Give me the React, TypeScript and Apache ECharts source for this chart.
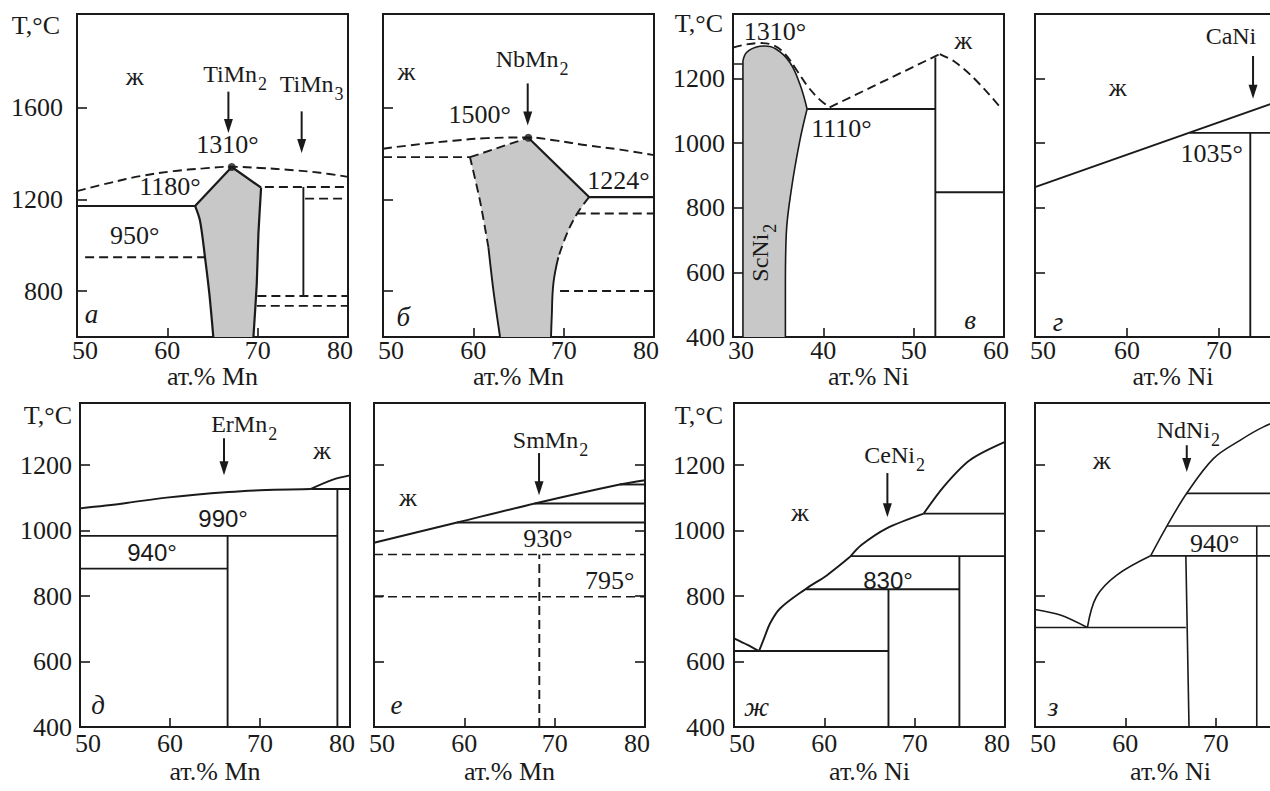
import React, { useEffect, useRef } from "react";
import * as echarts from "echarts";

type Pt = [number, number];

// ---------------- data (x = at.%, y = T, °C) ----------------
// а  Ti–Mn
const A_LIQUIDUS: Pt[] = [[50, 1237], [53.65, 1273], [56.98, 1302], [60.67, 1324], [63.99, 1336], [66.94, 1343], [70.27, 1338], [73.96, 1328], [76.91, 1317], [80, 1299]];
const A_DOT: Pt[] = [[67.13, 1342]];
const A_PHASE_LEFT: Pt[] = [[65.09, 600], [64.65, 789], [64.17, 948], [63.62, 1107], [63.07, 1172]];
const A_PHASE_TOP: Pt[] = [[63.07, 1172], [67.13, 1342], [70.38, 1252]];
const A_PHASE_RIGHT: Pt[] = [[70.38, 1252], [70.08, 1049], [69.9, 833], [69.53, 600]];
const A_EUTECTIC: Pt[] = [[50, 1172], [63.07, 1172]];
const A_950: Pt[] = [[50.9, 948], [64.17, 948]];
const A_DASH_1255: Pt[] = [[70.8, 1255], [80, 1255]];
const A_DASH_1204: Pt[] = [[75.25, 1204], [80, 1204]];
const A_TIMN3: Pt[] = [[75.06, 1255], [75.06, 779]];
const A_DASH_779: Pt[] = [[69.97, 779], [80, 779]];
const A_DASH_736: Pt[] = [[69.9, 736], [80, 736]];

// б  Nb–Mn
const B_LIQUIDUS: Pt[] = [[50, 1422], [54.1, 1442], [57.79, 1457], [61.48, 1468], [66.09, 1471], [69.23, 1457], [72.55, 1437], [76.25, 1418], [80, 1394]];
const B_DOT: Pt[] = [[66.09, 1470]];
const B_LEFT_SOLID: Pt[] = [[62.96, 600], [62.22, 804], [61.67, 991]];
const B_LEFT_DASH: Pt[] = [[61.67, 991], [60.74, 1194], [59.63, 1385]];
const B_TOP_DASH: Pt[] = [[59.63, 1385], [66.09, 1470]];
const B_TOP_SOLID: Pt[] = [[66.09, 1470], [72.81, 1211]];
const B_RIGHT_DASH: Pt[] = [[72.81, 1211], [71.45, 1136], [70.34, 1049], [69.41, 948]];
const B_RIGHT_SOLID: Pt[] = [[69.41, 948], [68.86, 833], [68.68, 688], [68.6, 600]];
const B_DASH_1385: Pt[] = [[50, 1385], [59.63, 1385]];
const B_SOLID_1211: Pt[] = [[72.81, 1211], [80, 1211]];
const B_DASH_1139: Pt[] = [[71.45, 1139], [80, 1139]];
const B_DASH_801: Pt[] = [[69.6, 801], [80, 801]];

// в  Sc–Ni
const C_PHASE_LEFT: Pt[] = [[31.1, 400], [31.1, 1255]];
const C_PHASE_TOP: Pt[] = [[31.1, 1255], [31.5, 1281], [32.6, 1298], [33.5, 1301], [34.8, 1291], [36.3, 1250], [37.4, 1183], [38.2, 1106]];
const C_PHASE_RIGHT: Pt[] = [[38.2, 1106], [37.4, 1008], [36.5, 864], [35.9, 720], [35.8, 566], [35.8, 400]];
const C_STUB: Pt[] = [[30, 1245], [31.1, 1245]];
const C_LIQ_1: Pt[] = [[30, 1296], [31.5, 1306], [33, 1310], [34.5, 1303], [35.8, 1275], [37, 1228], [38.3, 1175], [39.6, 1135], [40.7, 1111]];
const C_LIQ_2: Pt[] = [[40.7, 1111], [52.9, 1276]];
const C_LIQ_3: Pt[] = [[52.9, 1276], [54.5, 1253], [56.2, 1214], [58, 1162], [59.6, 1111]];
const C_EUTECTIC: Pt[] = [[38.2, 1106], [52.4, 1106]];
const C_VERT: Pt[] = [[52.4, 400], [52.4, 1265]];
const C_848: Pt[] = [[52.4, 848], [60, 848]];

// г  Ca–Ni
const D_LIQ: Pt[] = [[50, 864], [80, 1165]];
const D_1032: Pt[] = [[66.8, 1032], [80, 1032]];
const D_VERT: Pt[] = [[73.4, 400], [73.4, 1032]];

// д  Er–Mn
const E_LIQ: Pt[] = [[50, 1068], [54.8, 1083], [59.6, 1101], [66.5, 1118], [70.7, 1124], [75.6, 1127]];
const E_BRANCH: Pt[] = [[75.6, 1127], [78.1, 1156], [80, 1169]];
const E_1127: Pt[] = [[75.6, 1127], [80, 1127]];
const E_V1: Pt[] = [[78.6, 400], [78.6, 1127]];
const E_990: Pt[] = [[50, 984], [78.6, 984]];
const E_V2: Pt[] = [[66.4, 400], [66.4, 984]];
const E_940: Pt[] = [[50, 884], [66.4, 884]];

// е  Sm–Mn
const F_LIQ: Pt[] = [[50, 963], [59.2, 1025], [67.8, 1083], [77.2, 1141], [80, 1154]];
const F_1025: Pt[] = [[59.2, 1025], [80, 1025]];
const F_1083: Pt[] = [[67.8, 1083], [80, 1083]];
const F_1141: Pt[] = [[77.2, 1141], [80, 1141]];
const F_930: Pt[] = [[50, 927], [80, 927]];
const F_795: Pt[] = [[50, 798], [80, 798]];
const F_VERT: Pt[] = [[68.3, 400], [68.3, 927]];

// ж  Ce–Ni
const G_LIQ_LEFT: Pt[] = [[50, 671], [51.5, 651], [52.77, 632]];
const G_LIQ_1: Pt[] = [[52.77, 632], [53.4, 676], [54.0, 717], [55.1, 762], [57.9, 821], [60.3, 864], [62.85, 920]];
const G_LIQ_2: Pt[] = [[62.85, 920], [64.1, 956], [66.9, 1007], [71.0, 1052]];
const G_LIQ_3: Pt[] = [[71.0, 1052], [73.2, 1134], [76.1, 1215], [80, 1271]];
const G_632: Pt[] = [[50, 632], [67.1, 632]];
const G_V1: Pt[] = [[67.1, 400], [67.1, 821]];
const G_821: Pt[] = [[57.9, 821], [74.95, 821]];
const G_922: Pt[] = [[62.85, 922], [80, 922]];
const G_V2: Pt[] = [[74.95, 400], [74.95, 922]];
const G_1052: Pt[] = [[71.0, 1052], [80, 1052]];

// з  Nd–Ni
const H_LIQ_LEFT: Pt[] = [[50, 759], [52.8, 742], [55.8, 704]];
const H_LIQ_1: Pt[] = [[55.8, 704], [56.8, 798], [59.05, 864], [62.8, 923]];
const H_LIQ_2: Pt[] = [[62.8, 923], [64.6, 1014], [66.8, 1114], [69.75, 1220], [72.7, 1276], [75.3, 1317], [80, 1370]];
const H_704: Pt[] = [[50, 704], [66.7, 704]];
const H_V1: Pt[] = [[66.7, 923], [67.05, 400]];
const H_923: Pt[] = [[62.8, 923], [80, 923]];
const H_1014: Pt[] = [[64.6, 1014], [80, 1014]];
const H_1114: Pt[] = [[66.8, 1114], [80, 1114]];
const H_V2: Pt[] = [[74.55, 400], [74.55, 1014]];

// axis ticks / labels
const MN_LABELS = [50, 60, 70, 80];
const CUT_LABELS = [50, 60, 70];
const MN_TICKS = [60, 70];
const SC_LABELS = [30, 40, 50, 60];
const SC_TICKS = [40, 50];
const T_HI_LABELS = [800, 1200, 1600];
const T_HI_TICKS = [800, 1200, 1600];
const T_LO_LABELS = [400, 600, 800, 1000, 1200];
const T_LO_TICKS = [600, 800, 1000, 1200];
const E_RIGHT_TICKS = [600, 800, 1000, 1200];

// ---------------- styling ----------------
const SERIF = "'Liberation Serif', 'Times New Roman', serif";
const SANS = "'Liberation Sans', Arial, sans-serif";
const INK = "#1a1a1a";
const FILL = "#c8c8c8";

interface Panel {
  grid: { left: number; top: number; width: number; height: number };
  x: [number, number];
  y: [number, number];
  xLabels: number[];
  xTicks: number[];
  yLabels: number[] | null;
  yTicks: number[];
  xName: string;
  row: number;
  yMargin: number;
}

const PANELS: Panel[] = [
  { grid: { left: 77, top: 14, width: 271, height: 323 }, x: [50, 80], y: [600, 2010], xLabels: MN_LABELS, xTicks: MN_TICKS, yLabels: T_HI_LABELS, yTicks: T_HI_TICKS, xName: "ат.% Mn", row: 0, yMargin: 14 },
  { grid: { left: 383, top: 14, width: 271, height: 323 }, x: [50, 80], y: [600, 2010], xLabels: MN_LABELS, xTicks: MN_TICKS, yLabels: null, yTicks: T_HI_TICKS, xName: "ат.% Mn", row: 0, yMargin: 10 },
  { grid: { left: 733, top: 14, width: 271, height: 323 }, x: [30, 60], y: [400, 1400], xLabels: SC_LABELS, xTicks: SC_TICKS, yLabels: T_LO_LABELS, yTicks: T_LO_TICKS, xName: "ат.% Ni", row: 0, yMargin: 8 },
  { grid: { left: 1035, top: 14, width: 276, height: 323 }, x: [50, 80], y: [400, 1400], xLabels: CUT_LABELS, xTicks: MN_TICKS, yLabels: null, yTicks: T_LO_TICKS, xName: "ат.% Ni", row: 0, yMargin: 10 },
  { grid: { left: 80, top: 403, width: 270, height: 324 }, x: [50, 80], y: [400, 1390], xLabels: MN_LABELS, xTicks: MN_TICKS, yLabels: T_LO_LABELS, yTicks: T_LO_TICKS, xName: "ат.% Mn", row: 1, yMargin: 8 },
  { grid: { left: 374, top: 403, width: 271, height: 324 }, x: [50, 80], y: [400, 1390], xLabels: MN_LABELS, xTicks: MN_TICKS, yLabels: null, yTicks: T_LO_TICKS, xName: "ат.% Mn", row: 1, yMargin: 10 },
  { grid: { left: 734, top: 403, width: 271, height: 324 }, x: [50, 80], y: [400, 1390], xLabels: MN_LABELS, xTicks: MN_TICKS, yLabels: T_LO_LABELS, yTicks: T_LO_TICKS, xName: "ат.% Ni", row: 1, yMargin: 9 },
  { grid: { left: 1035, top: 403, width: 271, height: 324 }, x: [50, 80], y: [400, 1390], xLabels: CUT_LABELS, xTicks: MN_TICKS, yLabels: null, yTicks: T_LO_TICKS, xName: "ат.% Ni", row: 1, yMargin: 10 },
];

type Ann =
  | { k: "t"; x: number; y: number; text: string; f: "num" | "sans" | "liq" | "ital" | "form" }
  | { k: "f"; x: number; y: number; main: string; sub: string }
  | { k: "v"; x: number; y: number; main: string; sub: string }
  | { k: "a"; x: number; y1: number; y2: number };

const ANNOTATIONS: Ann[][] = [
  [
    { k: "t", f: "liq", x: 56.4, y: 1735, text: "ж" },
    { k: "f", x: 69.93, y: 1748, main: "TiMn", sub: "2" },
    { k: "a", x: 66.76, y1: 1671, y2: 1490 },
    { k: "f", x: 78.4, y: 1703, main: "TiMn", sub: "3" },
    { k: "a", x: 74.87, y1: 1585, y2: 1403 },
    { k: "t", f: "num", x: 66.65, y: 1440, text: "1310°" },
    { k: "t", f: "num", x: 60.3, y: 1255, text: "1180°" },
    { k: "t", f: "num", x: 56.4, y: 1045, text: "950°" },
    { k: "t", f: "ital", x: 51.6, y: 700, text: "а" },
  ],
  [
    { k: "t", f: "liq", x: 52.6, y: 1757, text: "ж" },
    { k: "f", x: 69.42, y: 1815, main: "NbMn", sub: "2" },
    { k: "a", x: 66.02, y1: 1707, y2: 1523 },
    { k: "t", f: "num", x: 60.7, y: 1570, text: "1500°" },
    { k: "t", f: "num", x: 76.06, y: 1281, text: "1224°" },
    { k: "t", f: "ital", x: 52.25, y: 688, text: "б" },
  ],
  [
    { k: "t", f: "num", x: 34.65, y: 1347, text: "1310°" },
    { k: "t", f: "liq", x: 55.5, y: 1317, text: "ж" },
    { k: "t", f: "num", x: 42.0, y: 1044, text: "1110°" },
    { k: "v", x: 33.0, y: 720, main: "ScNi", sub: "2" },
    { k: "t", f: "ital", x: 56.25, y: 452, text: "в" },
  ],
  [
    { k: "t", f: "form", x: 71.3, y: 1332, text: "CaNi" },
    { k: "a", x: 73.7, y1: 1270, y2: 1138 },
    { k: "t", f: "liq", x: 59.0, y: 1172, text: "ж" },
    { k: "t", f: "num", x: 69.2, y: 968, text: "1035°" },
    { k: "t", f: "ital", x: 52.5, y: 446, text: "г" },
  ],
  [
    { k: "f", x: 70.8, y: 1327, main: "ErMn", sub: "2" },
    { k: "a", x: 66.0, y1: 1282, y2: 1169 },
    { k: "t", f: "liq", x: 76.9, y: 1246, text: "ж" },
    { k: "t", f: "sans", x: 65.9, y: 1038, text: "990°" },
    { k: "t", f: "sans", x: 58.0, y: 934, text: "940°" },
    { k: "t", f: "ital", x: 52.0, y: 467, text: "д" },
  ],
  [
    { k: "f", x: 72.6, y: 1276, main: "SmMn", sub: "2" },
    { k: "a", x: 68.27, y1: 1237, y2: 1108 },
    { k: "t", f: "liq", x: 53.77, y: 1102, text: "ж" },
    { k: "t", f: "num", x: 69.27, y: 977, text: "930°" },
    { k: "t", f: "num", x: 76.1, y: 849, text: "795°" },
    { k: "t", f: "ital", x: 52.5, y: 467, text: "е" },
  ],
  [
    { k: "f", x: 70.04, y: 1230, main: "CeNi", sub: "2" },
    { k: "a", x: 66.98, y1: 1176, y2: 1041 },
    { k: "t", f: "liq", x: 57.3, y: 1056, text: "ж" },
    { k: "t", f: "sans", x: 67.05, y: 849, text: "830°" },
    { k: "t", f: "ital", x: 52.5, y: 461, text: "ж" },
  ],
  [
    { k: "f", x: 69.38, y: 1307, main: "NdNi", sub: "2" },
    { k: "a", x: 66.8, y1: 1261, y2: 1179 },
    { k: "t", f: "liq", x: 57.4, y: 1215, text: "ж" },
    { k: "t", f: "num", x: 69.9, y: 962, text: "940°" },
    { k: "t", f: "ital", x: 52.0, y: 461, text: "з" },
  ],
];

const FONTS: Record<string, { size: number; family: string; style: string }> = {
  num: { size: 26, family: SERIF, style: "normal" },
  sans: { size: 24, family: SANS, style: "normal" },
  liq: { size: 26, family: SERIF, style: "normal" },
  ital: { size: 27, family: SERIF, style: "italic" },
  form: { size: 24, family: SERIF, style: "normal" },
};

function txt(text: string, x: number, y: number, f: { size: number; family: string; style: string }, align = "center") {
  return {
    type: "text",
    x,
    y,
    style: { text, fill: INK, fontSize: f.size, fontFamily: f.family, fontStyle: f.style, align, verticalAlign: "middle" },
  };
}

function buildOption() {
  const grid: any[] = [];
  const xAxis: any[] = [];
  const yAxis: any[] = [];
  const series: any[] = [];
  const lab = { fontFamily: SERIF, fontSize: 26, color: INK, fontStyle: "normal" };

  PANELS.forEach((p, i) => {
    grid.push({
      ...p.grid,
      show: true,
      borderColor: INK,
      borderWidth: 2,
      backgroundColor: "rgba(0,0,0,0)",
      containLabel: false,
      outerBoundsMode: "none",
    });
    const xmin = p.x[0];
    const xmax = p.x[1];
    xAxis.push({
      type: "value",
      gridIndex: i,
      min: xmin,
      max: xmax,
      axisLine: { show: false },
      splitLine: { show: false },
      axisTick: { show: true, inside: true, length: 9, customValues: p.xTicks, lineStyle: { color: INK, width: 1.6 } },
      axisLabel: {
        show: true,
        customValues: p.xLabels,
        margin: p.row === 0 ? 0 : 3,
        ...lab,
        formatter: (v: number) => (v === xmin ? `{l|${v}}` : v === xmax ? `{r|${v}}` : `{c|${v}}`),
        rich: {
          l: { ...lab, padding: [0, 0, 0, 16] },
          r: { ...lab, padding: [0, 16, 0, 0] },
          c: { ...lab },
        },
      },
      name: p.xName,
      nameLocation: "middle",
      nameGap: p.row === 0 ? 24 : 31,
      nameTextStyle: { ...lab },
    });
    yAxis.push({
      type: "value",
      gridIndex: i,
      min: p.y[0],
      max: p.y[1],
      axisLine: { show: false },
      splitLine: { show: false },
      axisTick: { show: true, inside: true, length: 10, customValues: p.yTicks, lineStyle: { color: INK, width: 1.6 } },
      axisLabel: {
        show: !!p.yLabels,
        customValues: p.yLabels || [],
        margin: p.yMargin,
        ...lab,
        formatter: (v: number) => `{c|${v}}`,
        rich: { c: { ...lab } },
      },
    });
  });
  yAxis.push({
    type: "value",
    gridIndex: 5,
    position: "right",
    min: 400,
    max: 1390,
    axisLine: { show: false },
    splitLine: { show: false },
    axisLabel: { show: false },
    axisTick: { show: true, inside: true, length: 10, customValues: E_RIGHT_TICKS, lineStyle: { color: INK, width: 1.6 } },
  });

  const ln = (gi: number, data: Pt[], o: { dash?: boolean; smooth?: number; w?: number } = {}) =>
    series.push({
      type: "line",
      xAxisIndex: gi,
      yAxisIndex: gi,
      data,
      symbol: "none",
      showSymbol: false,
      silent: true,
      smooth: o.smooth || false,
      z: 3,
      lineStyle: { color: INK, width: o.w || 1.9, type: o.dash ? [9, 5] : "solid", cap: "butt" },
    });
  const poly = (gi: number, pts: Pt[]) =>
    series.push({
      type: "custom",
      xAxisIndex: gi,
      yAxisIndex: gi,
      silent: true,
      z: 1,
      data: [pts[0]],
      renderItem: (_params: any, api: any) => ({
        type: "polygon",
        shape: { points: pts.map((q) => api.coord(q)) },
        style: { fill: FILL, stroke: "none" },
      }),
    });
  const dot = (gi: number, data: Pt[]) =>
    series.push({ type: "scatter", xAxisIndex: gi, yAxisIndex: gi, data, symbolSize: 8, itemStyle: { color: INK }, silent: true, z: 6 });

  // а
  poly(0, [...A_PHASE_LEFT, ...A_PHASE_TOP.slice(1), ...A_PHASE_RIGHT.slice(1)]);
  ln(0, A_LIQUIDUS, { dash: true, smooth: 0.4 });
  ln(0, A_PHASE_LEFT, { smooth: 0.3, w: 2.2 });
  ln(0, A_PHASE_TOP, { w: 2.2 });
  ln(0, A_PHASE_RIGHT, { smooth: 0.2, w: 2.2 });
  ln(0, A_EUTECTIC);
  ln(0, A_950, { dash: true });
  ln(0, A_DASH_1255, { dash: true });
  ln(0, A_DASH_1204, { dash: true });
  ln(0, A_TIMN3);
  ln(0, A_DASH_779, { dash: true });
  ln(0, A_DASH_736, { dash: true });
  dot(0, A_DOT);

  // б
  poly(1, [...B_LEFT_SOLID, ...B_LEFT_DASH.slice(1), ...B_TOP_DASH.slice(1), ...B_TOP_SOLID.slice(1), ...B_RIGHT_DASH.slice(1), ...B_RIGHT_SOLID.slice(1)]);
  ln(1, B_LIQUIDUS, { dash: true, smooth: 0.4 });
  ln(1, B_LEFT_SOLID, { smooth: 0.3 });
  ln(1, B_LEFT_DASH, { dash: true, smooth: 0.3 });
  ln(1, B_TOP_DASH, { dash: true });
  ln(1, B_TOP_SOLID, { w: 2.2 });
  ln(1, B_RIGHT_DASH, { dash: true, smooth: 0.4 });
  ln(1, B_RIGHT_SOLID, { smooth: 0.4 });
  ln(1, B_DASH_1385, { dash: true });
  ln(1, B_SOLID_1211, { w: 2.2 });
  ln(1, B_DASH_1139, { dash: true });
  ln(1, B_DASH_801, { dash: true });
  dot(1, B_DOT);

  // в
  poly(2, [...C_PHASE_LEFT, ...C_PHASE_TOP.slice(1), ...C_PHASE_RIGHT.slice(1)]);
  ln(2, C_PHASE_LEFT, { w: 1.6 });
  ln(2, C_PHASE_TOP, { smooth: 0.4, w: 1.6 });
  ln(2, C_PHASE_RIGHT, { smooth: 0.4, w: 1.6 });
  ln(2, C_STUB, { w: 1.6 });
  ln(2, C_LIQ_1, { dash: true, smooth: 0.4 });
  ln(2, C_LIQ_2, { dash: true });
  ln(2, C_LIQ_3, { dash: true, smooth: 0.3 });
  ln(2, C_EUTECTIC);
  ln(2, C_VERT);
  ln(2, C_848);

  // г
  ln(3, D_LIQ);
  ln(3, D_1032);
  ln(3, D_VERT);

  // д
  ln(4, E_LIQ, { smooth: 0.3 });
  ln(4, E_BRANCH, { smooth: 0.3 });
  ln(4, E_1127);
  ln(4, E_V1);
  ln(4, E_990);
  ln(4, E_V2);
  ln(4, E_940);

  // е
  ln(5, F_LIQ, { smooth: 0.3 });
  ln(5, F_1025);
  ln(5, F_1083);
  ln(5, F_1141);
  ln(5, F_930, { dash: true, w: 1.6 });
  ln(5, F_795, { dash: true, w: 1.6 });
  ln(5, F_VERT, { dash: true });

  // ж
  ln(6, G_LIQ_LEFT, { smooth: 0.3 });
  ln(6, G_LIQ_1, { smooth: 0.35 });
  ln(6, G_LIQ_2, { smooth: 0.3 });
  ln(6, G_LIQ_3, { smooth: 0.3 });
  ln(6, G_632);
  ln(6, G_V1);
  ln(6, G_821);
  ln(6, G_922);
  ln(6, G_V2);
  ln(6, G_1052);

  // з
  ln(7, H_LIQ_LEFT, { smooth: 0.3, w: 1.6 });
  ln(7, H_LIQ_1, { smooth: 0.35, w: 1.6 });
  ln(7, H_LIQ_2, { smooth: 0.35, w: 1.6 });
  ln(7, H_704, { w: 1.6 });
  ln(7, H_V1, { w: 1.6 });
  ln(7, H_923, { w: 1.6 });
  ln(7, H_1014, { w: 1.6 });
  ln(7, H_1114, { w: 1.6 });
  ln(7, H_V2, { w: 1.6 });

  ANNOTATIONS.forEach((list, gi) => {
    series.push({
      type: "custom",
      xAxisIndex: gi,
      yAxisIndex: gi,
      silent: true,
      clip: false,
      z: 8,
      data: list.map((a) => (a.k === "a" ? [a.x, a.y1] : [a.x, a.y])),
      renderItem: (params: any, api: any) => {
        const a = list[params.dataIndex];
        if (a.k === "t") {
          const p = api.coord([a.x, a.y]);
          return txt(a.text, p[0], p[1], FONTS[a.f]);
        }
        if (a.k === "f") {
          const p = api.coord([a.x, a.y]);
          return {
            type: "group",
            children: [
              txt(a.main, p[0], p[1], FONTS.form, "right"),
              txt(a.sub, p[0] + 1, p[1] + 10, { size: 18, family: SERIF, style: "normal" }, "left"),
            ],
          };
        }
        if (a.k === "v") {
          const p = api.coord([a.x, a.y]);
          return {
            type: "group",
            x: p[0],
            y: p[1],
            rotation: Math.PI / 2,
            children: [
              txt(a.main, 0, 0, FONTS.form, "right"),
              txt(a.sub, 1, 10, { size: 18, family: SERIF, style: "normal" }, "left"),
            ],
          };
        }
        const p1 = api.coord([a.x, a.y1]);
        const p2 = api.coord([a.x, a.y2]);
        return {
          type: "group",
          children: [
            { type: "line", shape: { x1: p1[0], y1: p1[1], x2: p2[0], y2: p2[1] - 8 }, style: { stroke: INK, lineWidth: 2 } },
            {
              type: "polygon",
              shape: { points: [[p2[0] - 4.5, p2[1] - 14], [p2[0] + 4.5, p2[1] - 14], [p2[0], p2[1]]] },
              style: { fill: INK },
            },
          ],
        };
      },
    });
  });

  const title = (text: string, x: number, y: number) => ({
    type: "text",
    x,
    y,
    style: { text, fill: INK, fontSize: 26, fontFamily: SERIF, align: "right", verticalAlign: "middle" },
  });

  return {
    animation: false,
    backgroundColor: "#ffffff",
    textStyle: { fontFamily: SERIF },
    grid,
    xAxis,
    yAxis,
    series,
    graphic: [title("T,°C", 60, 25), title("T,°C", 723, 23), title("T,°C", 72, 415), title("T,°C", 723, 415)],
  };
}

export default function App() {
  const ref = useRef<HTMLDivElement>(null);
  useEffect(() => {
    if (!ref.current) return;
    const chart = echarts.init(ref.current, null, { renderer: "svg" });
    chart.setOption(buildOption() as any);
    return () => chart.dispose();
  }, []);
  return (
    <div
      ref={ref}
      style={{ position: "absolute", left: 0, top: 0, width: 1270, height: 791, background: "#fff" }}
    />
  );
}
